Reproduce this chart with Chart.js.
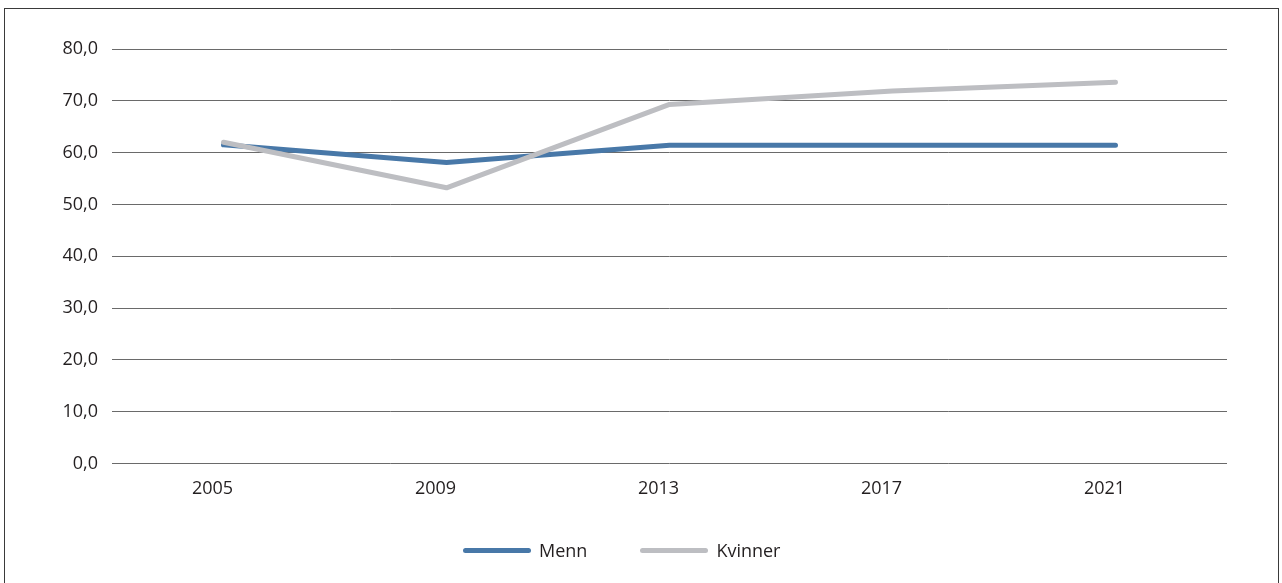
<!DOCTYPE html>
<html>
<head>
<meta charset="utf-8">
<script src="https://cdn.jsdelivr.net/npm/chart.js@4.4.1/dist/chart.umd.min.js"></script>
<style>
  html, body { margin: 0; padding: 0; background: #fff; }
  body { width: 1282px; height: 583px; position: relative; overflow: hidden; }
  #frame {
    position: absolute; left: 4px; top: 8px; width: 1275px; height: 600px;
    border: 1px solid #3a3a3a; box-sizing: border-box;
  }
  #wrap { position: absolute; left: 0; top: 0; width: 1282px; height: 583px; }
  #legend {
    position: absolute; left: 463px; top: 538px; height: 24px;
    display: flex; align-items: center;
    font-family: "Open Sans", "Noto Sans", sans-serif; font-size: 18px; color: #231f20;
  }
  #legend .item { display: flex; align-items: center; margin-right: 53px; }
  #legend .swatch { width: 68px; height: 5px; border-radius: 3px; margin-right: 8px; }
</style>
</head>
<body>
<div id="frame"></div>
<div id="wrap"><canvas id="chart"></canvas></div>
<div id="legend"></div>
<script>
// Survey years
const years = ['2005', '2009', '2013', '2017', '2021'];
// Share (per cent) by sex
const menn = [61.5, 58.1, 61.4, 61.4, 61.4];
const kvinner = [62.0, 53.2, 69.3, 71.9, 73.6];
// Y axis ticks
const yTicks = [0, 10, 20, 30, 40, 50, 60, 70, 80];

const FONT = '"Open Sans", "Noto Sans", sans-serif';
const TEXT = '#231f20';

const chart = new Chart(document.getElementById('chart'), {
  type: 'line',
  data: {
    labels: years,
    datasets: [
      {
        label: 'Menn',
        data: menn,
        borderColor: '#4878a8',
        backgroundColor: '#4878a8',
        borderWidth: 5,
        borderCapStyle: 'round',
        borderJoinStyle: 'round',
        pointRadius: 0,
        tension: 0,
        order: 1
      },
      {
        label: 'Kvinner',
        data: kvinner,
        borderColor: '#bdbec2',
        backgroundColor: '#bdbec2',
        borderWidth: 5,
        borderCapStyle: 'round',
        borderJoinStyle: 'round',
        pointRadius: 0,
        tension: 0,
        order: 0
      }
    ]
  },
  options: {
    responsive: true,
    maintainAspectRatio: false,
    animation: false,
    layout: { padding: { top: 49, right: 55, bottom: 68, left: 0 } },
    plugins: {
      tooltip: { enabled: false },
      legend: { display: false }
    },
    scales: {
      x: {
        offset: true,
        grid: { display: false, drawTicks: false },
        border: { display: false },
        ticks: {
          color: TEXT,
          font: { family: FONT, size: 18 },
          padding: 15,
          labelOffset: -11,
          maxRotation: 0
        }
      },
      y: {
        min: 0,
        max: 80,
        afterFit: (scale) => { scale.width = 112; },
        afterBuildTicks: (scale) => { scale.ticks = yTicks.map(v => ({ value: v })); },
        grid: { color: '#6a6a6a', lineWidth: 1, drawTicks: false },
        border: { display: false },
        ticks: {
          color: TEXT,
          font: { family: FONT, size: 18 },
          padding: 14,
          callback: (v) => v.toFixed(1).replace('.', ',')
        }
      }
    }
  }
});

// Legend built from the chart's own datasets
const legendEl = document.getElementById('legend');
chart.data.datasets.forEach((ds) => {
  const item = document.createElement('div');
  item.className = 'item';
  const sw = document.createElement('span');
  sw.className = 'swatch';
  sw.style.background = ds.borderColor;
  const txt = document.createElement('span');
  txt.textContent = ds.label;
  item.appendChild(sw);
  item.appendChild(txt);
  legendEl.appendChild(item);
});
</script>
</body>
</html>
